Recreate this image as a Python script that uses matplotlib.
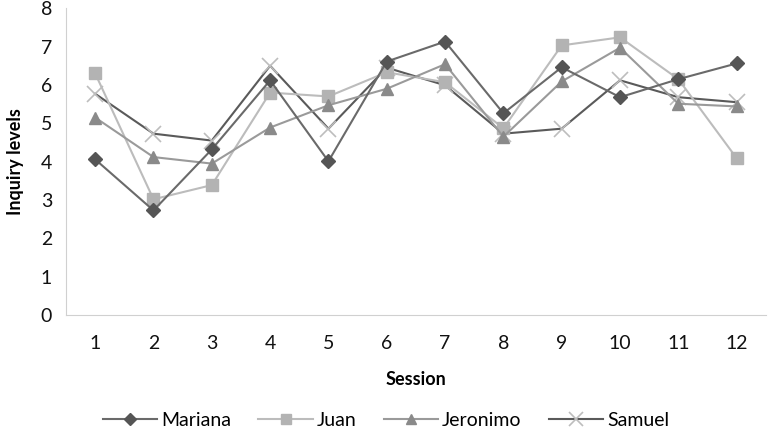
import matplotlib.pyplot as plt

plt.rcParams['font.family'] = ['Lato', 'DejaVu Sans']

# Data
sessions = list(range(1, 13))
mariana = [4.06, 2.73, 4.32, 6.12, 4.01, 6.61, 7.13, 5.26, 6.46, 5.68, 6.15, 6.56]
juan = [6.30, 3.02, 3.39, 5.80, 5.70, 6.33, 6.07, 4.87, 7.03, 7.24, 6.15, 4.09]
jeronimo = [5.15, 4.12, 3.95, 4.89, 5.47, 5.90, 6.54, 4.65, 6.09, 6.97, 5.51, 5.44]
samuel = [5.77, 4.73, 4.55, 6.50, 4.86, 6.45, 5.99, 4.73, 4.86, 6.12, 5.68, 5.55]

fig = plt.figure(figsize=(7.72, 4.30), dpi=100)
ax = fig.add_axes([0.0855, 0.267, 0.9065, 0.714])

ax.plot(sessions, samuel, color="#5a5a5a", lw=1.5, marker="x", ms=12,
        mec="#bdbdbd", mew=1.2, label="Samuel", zorder=2)
ax.plot(sessions, juan, color="#bcbcbc", lw=1.5, marker="s", ms=9,
        mfc="#b3b3b3", mec="#b3b3b3", label="Juan", zorder=3)
ax.plot(sessions, jeronimo, color="#9a9a9a", lw=1.5, marker="^", ms=9,
        mfc="#8a8a8a", mec="#8a8a8a", label="Jeronimo", zorder=4)
ax.plot(sessions, mariana, color="#6a6a6a", lw=1.5, marker="D", ms=7,
        mfc="#555555", mec="#555555", label="Mariana", zorder=5)

ax.set_xlim(0.5, 12.5)
ax.set_ylim(0, 8)
ax.set_xticks(sessions)
ax.set_yticks(range(0, 9))
ax.tick_params(length=0, labelsize=14, colors="#111111")
ax.tick_params(axis="x", pad=14)
ax.tick_params(axis="y", pad=10)

for side in ["top", "right"]:
    ax.spines[side].set_visible(False)
for side in ["left", "bottom"]:
    ax.spines[side].set_color("#d0d0d0")

ax.set_xlabel("Session", fontsize=13, fontweight="bold", labelpad=14)
ax.set_ylabel("Inquiry levels", fontsize=13, fontweight="bold", labelpad=12)

handles, labels = ax.get_legend_handles_labels()
order = [3, 1, 2, 0]
fig.legend([handles[i] for i in order], [labels[i] for i in order],
           loc="center", bbox_to_anchor=(0.5, 0.023), ncol=4,
           frameon=False, fontsize=14, handlelength=2.8,
           columnspacing=1.4, handletextpad=0.2, markerscale=0.85,
           borderpad=0.1)

fig.savefig("out.png", dpi=100)
